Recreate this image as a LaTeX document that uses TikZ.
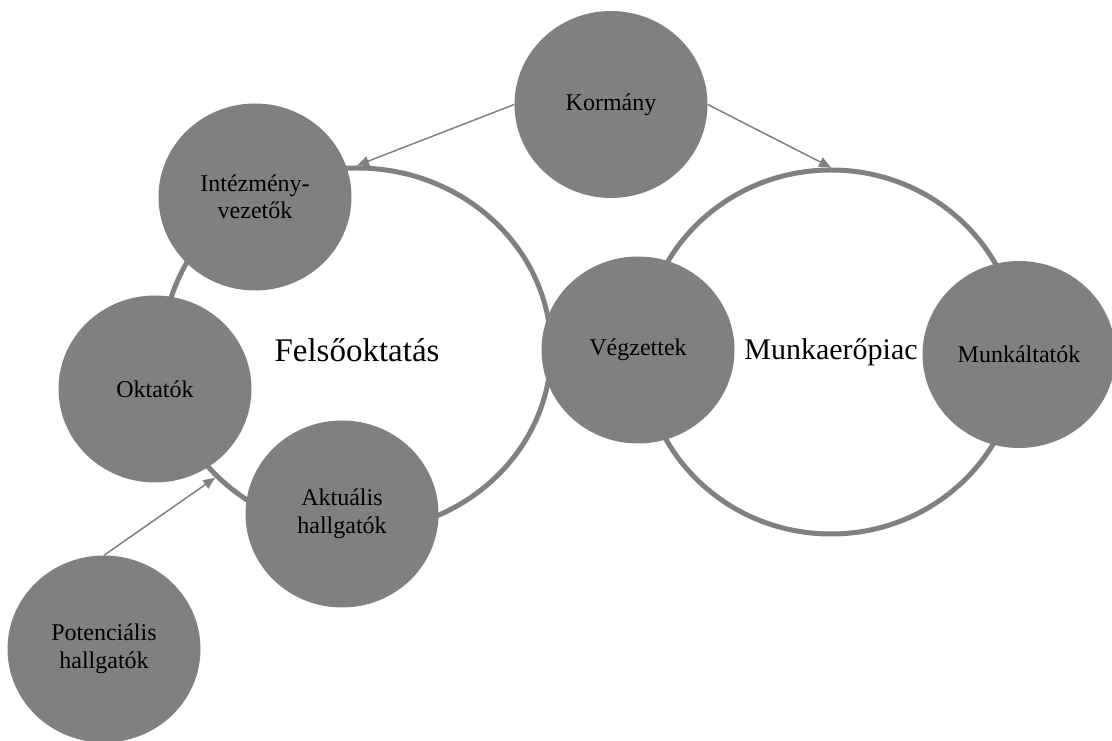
\documentclass[tikz,border=0pt]{standalone}
\usepackage{fontspec}
\setmainfont{Liberation Serif}
\usetikzlibrary{arrows.meta,shapes.geometric}
\definecolor{roundgray}{RGB}{128,128,128}

\begin{document}
\begin{tikzpicture}[x=1pt, y=1pt,
    actor/.style={ellipse, fill=roundgray, minimum width=193pt, minimum height=187pt, inner sep=0pt, align=center, font=\fontsize{24}{27.5}\selectfont},
    ring/.style={ellipse, draw=roundgray, line width=5pt, inner sep=0pt, font=\fontsize{30}{34}\selectfont},
    arrow/.style={-{Triangle[length=12pt,width=10pt]}, draw=roundgray, fill=roundgray, line width=1.5pt}
  ]
    \useasboundingbox (0,0) rectangle (1112,741);
    \node[ring, minimum width=388pt, minimum height=364pt, font=\fontsize{33}{37}\selectfont] (felso) at (357,391) {Felsőoktatás};
    \node[ring, minimum width=376pt, minimum height=364pt] (munka) at (831,389) {Munkaerőpiac};
    \node[actor] (kormany) at (611,636.5) {Kormány};
    \node[actor] (vezetok) at (255,544) {Intézmény-\\vezetők};
    \node[actor] (oktatok) at (155,352) {Oktatók};
    \node[actor] (aktualis) at (342,227) {Aktuális\\hallgatók};
    \node[actor] (potencialis) at (104,92) {Potenciális\\hallgatók};
    \node[actor] (vegzettek) at (638,391) {Végzettek};
    \node[actor] (munkaltatok) at (1019,386.5) {Munkáltatók};
    \draw[arrow] (kormany.west) -- (felso.north);
    \draw[arrow] (kormany.east) -- (munka.north);
    \draw[arrow] (potencialis.north) -- (felso.222);
  \end{tikzpicture}
\end{document}
